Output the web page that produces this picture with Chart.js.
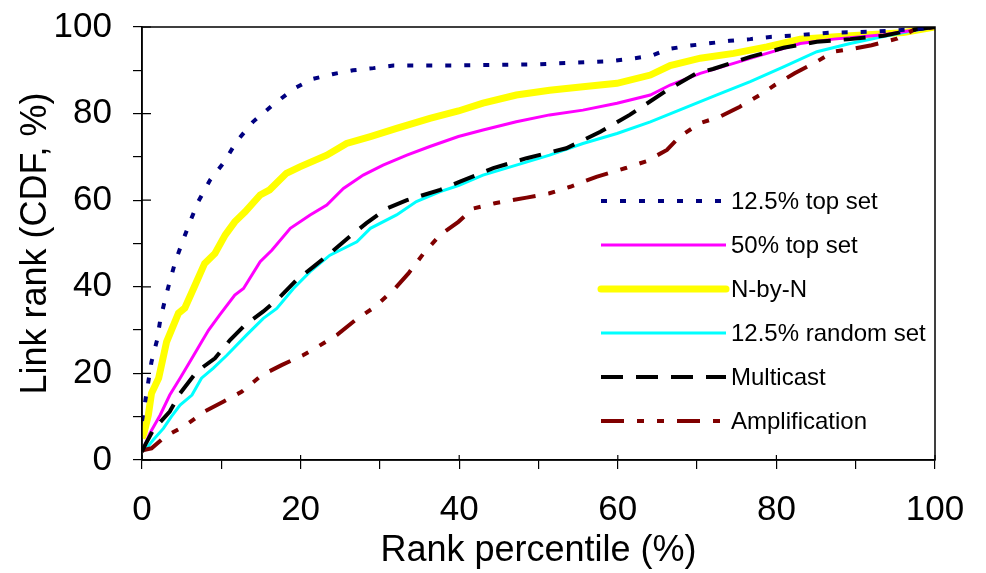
<!DOCTYPE html>
<html>
<head>
<meta charset="utf-8">
<script src="https://cdn.jsdelivr.net/npm/chart.js@4.4.1/dist/chart.umd.min.js"></script>
<style>
  html, body { margin: 0; padding: 0; background: #fff; }
  #wrap { width: 986px; height: 573px; }
</style>
</head>
<body>
<div id="wrap"><canvas id="cdf"></canvas></div>
<script>
// rank percentile (x) vs link rank CDF (y)
const seriesNames = ['12.5% top set', '50% top set', 'N-by-N', '12.5% random set', 'Multicast', 'Amplification'];

const top12X = [0, 0.4, 1.2, 1.9, 2.3, 2.9, 3.5, 4.2, 5.1, 6.1, 7.1, 8.6, 10.4, 11.9, 14, 16.5, 19.2, 21.5, 24, 26.6, 29.2, 31.7, 39, 50, 59, 61.8, 64.3, 66.4, 69.1, 71.4, 74.1, 76.7, 79.2, 81.7, 86.8, 91.8, 97.7, 100];
const top12Y = [9, 13.5, 22.7, 27.7, 32.3, 37, 41.2, 45.8, 50.4, 55.2, 59.7, 64.7, 68.9, 73.5, 78.1, 82, 85.8, 88, 89.1, 90, 90.5, 91.1, 91.1, 91.4, 92.1, 92.7, 93.4, 94.9, 95.7, 96.2, 96.8, 97.2, 97.7, 98, 98.7, 98.9, 99.5, 100];

const top50X = [0, 0.2, 1, 2.3, 3.5, 4.8, 6.3, 7.3, 8.4, 9.8, 11.7, 12.8, 14.9, 16.4, 18.7, 21.2, 23.3, 25.4, 27.9, 30.4, 33.4, 36.3, 39.9, 43, 47.2, 51.4, 55.6, 59.9, 64.1, 66.6, 70.4, 74.6, 78.8, 83, 87.2, 93.5, 100];
const top50Y = [2, 2.7, 6.2, 10.4, 15, 18.9, 23.5, 26.6, 30, 33.5, 38.1, 39.6, 45.8, 48.5, 53.5, 56.6, 58.9, 62.7, 65.8, 68.1, 70.4, 72.4, 74.7, 76.2, 78.1, 79.7, 80.8, 82.4, 84.3, 86.6, 89.3, 91.6, 93.9, 96.2, 97.2, 98.2, 100];

const nbynX = [0, 0.25, 0.8, 1.2, 2.1, 3.1, 4.6, 5.4, 6.5, 7.9, 9.2, 10.5, 11.7, 13, 14.9, 16.1, 18.2, 19.9, 23.3, 25.8, 28.8, 32.1, 36.3, 39.9, 43, 47.2, 51.4, 55.6, 59.9, 64.1, 66.6, 70.4, 74.6, 78.8, 83, 89.3, 96, 100];
const nbynY = [5, 6.2, 10.4, 15.4, 18.9, 27.3, 33.9, 35.1, 39.6, 45.4, 47.7, 52, 55, 57.3, 61.2, 62.4, 66.2, 67.7, 70.4, 73.1, 74.7, 76.6, 78.9, 80.6, 82.4, 84.3, 85.4, 86.2, 87, 88.9, 91.1, 92.8, 93.9, 95.4, 97.2, 98, 98.7, 100];

const rand12X = [0, 0.4, 1.4, 2.7, 3.7, 4.8, 6.3, 7.5, 9, 10.7, 13.2, 15.3, 17, 19.1, 21.2, 23.7, 27.1, 28.8, 32.1, 34.6, 37.6, 39.9, 43, 47.2, 51.4, 55.6, 59.9, 64.1, 68.3, 72.5, 76.7, 80.9, 85.1, 89.3, 93.5, 97.7, 100];
const rand12Y = [2, 2.3, 4.6, 7.3, 10, 12.7, 15, 18.9, 21.2, 24.2, 28.9, 32.7, 35, 39.6, 43.5, 47.3, 50.4, 53.5, 56.6, 59.7, 62, 63.4, 65.8, 68.1, 70.4, 73.1, 75.4, 78.1, 81.2, 84.3, 87.4, 90.8, 94.3, 96.2, 97.8, 99.3, 100];

const multiX = [0, 0.4, 1.4, 3.5, 4.8, 6.9, 9.2, 11.1, 13, 15.3, 17.2, 19.5, 21.6, 23.7, 26.2, 28.3, 30.9, 33.4, 35.5, 37.6, 40.1, 44.3, 48.5, 53.5, 57.8, 61.5, 66.2, 69.9, 72, 76.7, 80.9, 85.1, 89.3, 93.5, 97.7, 100];
const multiY = [2, 3.5, 6.9, 11.2, 15.4, 20.4, 23.5, 27.7, 31.2, 34.3, 37.3, 41.6, 44.6, 47.7, 51.6, 54.7, 58.1, 60, 61.2, 62.4, 64.3, 67.4, 69.7, 72, 75.8, 79.7, 85.4, 89.3, 90.3, 93.1, 95.2, 96.6, 97.2, 98, 99.5, 100];

const amplX = [0, 0.2, 1.2, 2.9, 5.4, 7.9, 10.3, 12.6, 15.1, 17.6, 20.3, 22.2, 24.6, 26.9, 29.4, 31.9, 33.6, 35.5, 37.6, 39.9, 41.8, 44.5, 48.5, 51.4, 54, 57.3, 61.1, 63.6, 66.2, 67.8, 70.4, 72.9, 75.4, 77.9, 79.8, 82.3, 85.1, 87.2, 89.7, 92, 95.2, 97.3, 100];
const amplY = [2, 2.3, 2.7, 5.4, 7.9, 11.2, 13.5, 15.8, 19.6, 21.9, 24.2, 26.2, 28.9, 32.3, 35.4, 39.6, 43.1, 47.7, 52, 55, 58.1, 59.3, 60.6, 61.6, 63.1, 65.4, 67.5, 69, 71.6, 74.7, 77.8, 79.3, 81.6, 84.3, 86.6, 89.3, 92, 94.3, 95, 95.8, 97.3, 99.3, 100];

const tickValues = [0, 20, 40, 60, 80, 100];

function pts(xs, ys) {
    return xs.map((x, i) => ({ x: x, y: ys[i] }));
}

const FONT = "'Liberation Sans', Arial, sans-serif";

// frame around plot, inner half of major ticks, legend inside the plot
const framePlugin = {
    id: 'frame',
    afterDatasetsDraw(chart) {
        const { ctx, chartArea: a } = chart;
        const xs = chart.scales.x, ys = chart.scales.y;
        ctx.save();
        ctx.strokeStyle = '#000';
        ctx.lineWidth = 1.5;
        ctx.strokeRect(a.left, a.top, a.right - a.left, a.bottom - a.top);

        ctx.lineWidth = 1.2;
        ctx.beginPath();
        tickValues.forEach(v => {
            const px = xs.getPixelForValue(v);
            ctx.moveTo(px, a.bottom);
            ctx.lineTo(px, a.bottom - 5);
            const py = ys.getPixelForValue(v);
            ctx.moveTo(a.left, py);
            ctx.lineTo(a.left + 9, py);
        });
        ctx.stroke();

        // legend
        ctx.font = '24px ' + FONT;
        ctx.textBaseline = 'middle';
        ctx.fillStyle = '#000';
        chart.data.datasets.forEach((ds, i) => {
            const y = 201 + i * 44;
            ctx.beginPath();
            ctx.strokeStyle = ds.borderColor;
            ctx.lineWidth = ds.borderWidth;
            ctx.lineCap = ds.label == 'N-by-N' ? 'round' : 'butt';
            ctx.setLineDash(ds.borderDash || []);
            ctx.moveTo(601, y);
            ctx.lineTo(726, y);
            ctx.stroke();
            ctx.setLineDash([]);
            ctx.fillText(ds.label, 731, y + 1);
        });
        ctx.restore();
    }
};

const datasets = [
    { label: seriesNames[0], data: pts(top12X, top12Y), borderColor: '#000080', borderWidth: 4, borderDash: [6, 13], order: 0 },
    { label: seriesNames[1], data: pts(top50X, top50Y), borderColor: '#FF00FF', borderWidth: 3, order: 3 },
    { label: seriesNames[2], data: pts(nbynX, nbynY), borderColor: '#FFFF00', borderWidth: 7, order: 5 },
    { label: seriesNames[3], data: pts(rand12X, rand12Y), borderColor: '#00FFFF', borderWidth: 3, order: 4 },
    { label: seriesNames[4], data: pts(multiX, multiY), borderColor: '#000000', borderWidth: 4, borderDash: [22, 13], order: 1 },
    { label: seriesNames[5], data: pts(amplX, amplY), borderColor: '#800000', borderWidth: 4, borderDash: [23, 13, 7, 13, 7, 13], order: 2 }
];
datasets.forEach(d => { d.pointRadius = 0; d.tension = 0; d.fill = false; });

function axisOpts(titleText, isY) {
    return {
        type: 'linear',
        min: 0,
        max: 100,
        border: { display: true, color: '#000', width: 1.5 },
        grid: { drawOnChartArea: false, drawTicks: true, tickLength: 9, color: '#000', lineWidth: 1.2 },
        ticks: {
            stepSize: 10,
            autoSkip: false,
            maxRotation: 0,
            color: '#000',
            padding: isY ? 21 : 20,
            font: { family: FONT, size: 35 },
            callback: v => tickValues.includes(v) ? String(v) : ''
        },
        title: {
            display: true,
            text: titleText,
            color: '#000',
            font: { family: FONT, size: 36 },
            padding: isY ? { top: 14, bottom: 0 } : { top: 0, bottom: 0 }
        },
        afterFit(scale) {
            if (isY) scale.width = 142;
            else scale.height = 113;
            scale.paddingTop = 0;
            scale.paddingBottom = 0;
            scale.paddingLeft = 0;
            scale.paddingRight = 0;
        }
    };
}

const ctx = document.getElementById('cdf');
new Chart(ctx, {
    type: 'line',
    data: { datasets: datasets },
    options: {
        responsive: true,
        maintainAspectRatio: false,
        animation: false,
        layout: { padding: { left: 0, right: 51, top: 27, bottom: 0 } },
        plugins: {
            legend: { display: false },
            tooltip: { enabled: false }
        },
        scales: {
            x: axisOpts('Rank percentile (%)', false),
            y: axisOpts('Link rank (CDF, %)', true)
        }
    },
    plugins: [framePlugin]
});
</script>
</body>
</html>
